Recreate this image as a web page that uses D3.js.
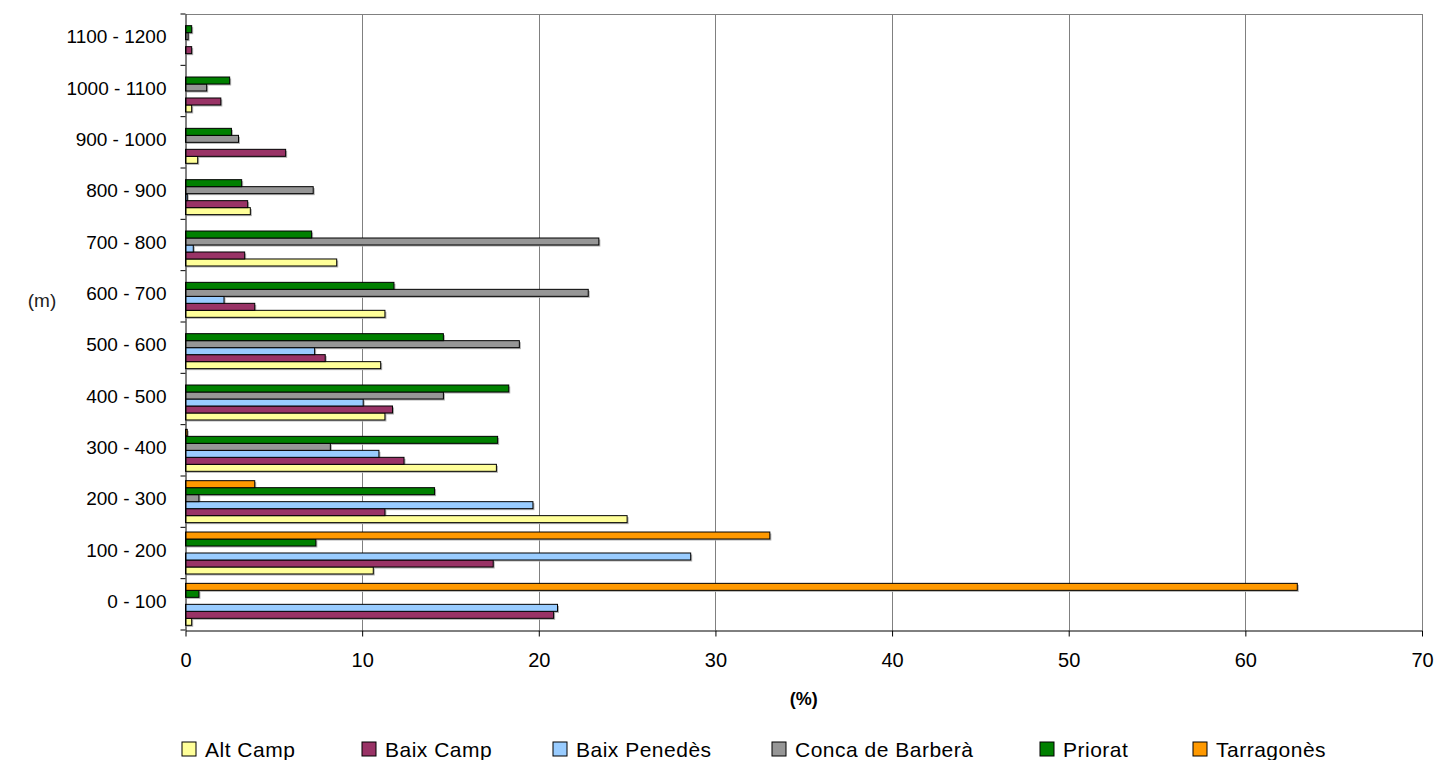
<html>
<head>
  <script src="https://d3js.org/d3.v7.min.js"></script>
  <style>
    body { margin: 0; background: #fff; }
    svg text { font-family: "Liberation Sans", Arial, sans-serif; fill: #000; }
  </style>
</head>
<body>
  <svg id="chart"></svg>

  <script>
    const categories = ['0 - 100', '100 - 200', '200 - 300', '300 - 400', '400 - 500', '500 - 600',
      '600 - 700', '700 - 800', '800 - 900', '900 - 1000', '1000 - 1100', '1100 - 1200'];
    const seriesNames = ['Alt Camp', 'Baix Camp', 'Baix Penedès', 'Conca de Barberà', 'Priorat', 'Tarragonès'];
    const altCamp = [0.35, 10.63, 25.0, 17.6, 11.29, 11.05, 11.29, 8.56, 3.67, 0.69, 0.35, 0];
    const baixCamp = [20.84, 17.42, 11.29, 12.37, 11.72, 7.91, 3.92, 3.35, 3.52, 5.67, 2.0, 0.35];
    const baixPenedes = [21.06, 28.6, 19.67, 10.95, 10.06, 7.31, 2.18, 0.44, 0.1, 0, 0, 0];
    const concaBarbera = [0, 0, 0.76, 8.2, 14.6, 18.9, 22.8, 23.4, 7.23, 3.0, 1.2, 0.15];
    const priorat = [0.76, 7.38, 14.1, 17.67, 18.3, 14.6, 11.8, 7.14, 3.18, 2.6, 2.5, 0.35];
    const tarragones = [62.94, 33.08, 3.92, 0.1, 0, 0, 0, 0, 0, 0, 0, 0];
    const xTicks = [0, 10, 20, 30, 40, 50, 60, 70];
    const colors = ['#FFFF99', '#993366', '#99CCFF', '#969696', '#008000', '#FF9900'];

    const allSeries = [altCamp, baixCamp, baixPenedes, concaBarbera, priorat, tarragones];

    const width = 1455, height = 760;
    const plotLeft = 185.5, plotRight = 1422, plotTop = 14, plotBottom = 630;

    const svg = d3.select('#chart').attr('width', width).attr('height', height);

    const x = d3.scaleLinear().domain([0, 70]).range([plotLeft, plotRight]);
    // top category first
    const y = d3.scaleBand().domain(categories.slice().reverse()).range([plotTop, plotBottom]).padding(0);
    // first series at the bottom of each group
    const yInner = d3.scaleBand().domain(seriesNames.slice().reverse())
      .range([0, y.bandwidth()]).paddingInner(0).paddingOuter(0.67);

    // gridlines
    svg.append('g').selectAll('line')
      .data(xTicks.filter(d => d > 0))
      .enter().append('line')
      .attr('x1', d => Math.round(x(d)) + 0.5).attr('x2', d => Math.round(x(d)) + 0.5)
      .attr('y1', plotTop).attr('y2', plotBottom)
      .attr('stroke', '#808080').attr('stroke-width', 1);
    svg.append('line')
      .attr('x1', plotLeft).attr('x2', plotRight).attr('y1', plotTop + 0.5).attr('y2', plotTop + 0.5)
      .attr('stroke', '#808080');

    // bars
    const rows = [];
    allSeries.forEach((vals, si) => {
      vals.forEach((v, ci) => {
        if (v > 0) rows.push({ series: seriesNames[si], cat: categories[ci], value: v, color: colors[si] });
      });
    });

    const bars = svg.append('g');
    bars.selectAll('rect.shadow')
      .data(rows)
      .enter().append('rect')
      .attr('class', 'shadow')
      .attr('x', x(0) + 1.5)
      .attr('y', d => y(d.cat) + yInner(d.series) + 1.5)
      .attr('width', d => x(d.value) - x(0))
      .attr('height', yInner.bandwidth())
      .attr('fill', '#b0b0b0');
    bars.selectAll('rect.bar')
      .data(rows)
      .enter().append('rect')
      .attr('class', 'bar')
      .attr('x', x(0))
      .attr('y', d => y(d.cat) + yInner(d.series))
      .attr('width', d => x(d.value) - x(0))
      .attr('height', yInner.bandwidth())
      .attr('fill', d => d.color)
      .attr('stroke', '#000')
      .attr('stroke-width', 1);

    // x axis
    const xAxis = svg.append('g')
      .attr('transform', `translate(0,${plotBottom + 0.5})`)
      .call(d3.axisBottom(x).tickValues(xTicks).tickSize(6).tickSizeOuter(0).tickPadding(16));
    xAxis.select('.domain').attr('stroke', '#000');
    xAxis.selectAll('.tick line').attr('stroke', '#000');
    xAxis.selectAll('.tick text').attr('font-size', '20px').attr('fill', '#000');

    // y axis
    const yAxis = svg.append('g')
      .attr('transform', `translate(${plotLeft},0)`)
      .call(d3.axisLeft(y).tickSize(0).tickSizeOuter(0).tickPadding(19));
    yAxis.select('.domain').attr('stroke', '#000');
    yAxis.selectAll('.tick text').attr('font-size', '19px').attr('fill', '#000').attr('dy', '0.2em');
    // tick marks between categories
    svg.append('g').selectAll('line')
      .data(d3.range(categories.length + 1))
      .enter().append('line')
      .attr('x1', plotLeft - 5).attr('x2', plotLeft)
      .attr('y1', i => plotTop + i * y.step()).attr('y2', i => plotTop + i * y.step())
      .attr('stroke', '#000');

    // axis titles
    svg.append('text')
      .attr('x', (plotLeft + plotRight) / 2).attr('y', 705)
      .attr('text-anchor', 'middle')
      .attr('font-size', '18px').attr('font-weight', 'bold')
      .text('(%)');
    svg.append('text')
      .attr('x', 42).attr('y', 307)
      .attr('text-anchor', 'middle')
      .attr('font-size', '19px').style('fill', '#222')
      .text('(m)');

    // legend
    const legendX = [182, 362, 553, 772, 1040, 1193];
    const legend = svg.append('g').selectAll('g')
      .data(seriesNames)
      .enter().append('g')
      .attr('transform', (d, i) => `translate(${legendX[i]},742)`);
    legend.append('rect')
      .attr('width', 14).attr('height', 14)
      .attr('fill', (d, i) => colors[i])
      .attr('stroke', '#000');
    legend.append('text')
      .attr('x', 23).attr('y', 15)
      .attr('font-size', '21px')
      .attr('letter-spacing', '0.5px')
      .text(d => d);
  </script>
</body>
</html>
